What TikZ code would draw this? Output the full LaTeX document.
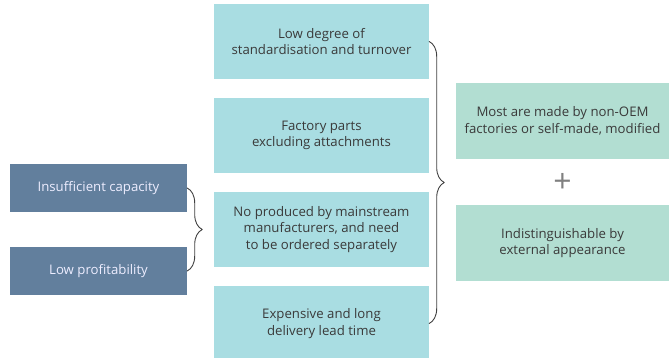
\documentclass[tikz,border=0pt]{standalone}
\usepackage{fontspec}
\setmainfont{Open Sans}
\usetikzlibrary{decorations.pathreplacing}
\definecolor{causeblue}{HTML}{627F9D}
\definecolor{partcyan}{HTML}{A9DDE2}
\definecolor{resgreen}{HTML}{B2DED2}
\definecolor{textgray}{HTML}{3A3A3A}
\begin{document}
\begin{tikzpicture}[x=1pt, y=-1pt, font=\fontsize{13.2}{16.6}\selectfont, line join=round, line cap=round,
	cause/.style={fill=causeblue, text=white!93!blue, minimum width=177pt, minimum height=48pt, inner sep=0pt, align=center},
	part/.style={fill=partcyan, text=textgray, minimum width=215pt, minimum height=75pt, inner sep=0pt, align=center},
	result/.style={fill=resgreen, text=textgray, minimum width=213pt, minimum height=76pt, inner sep=0pt, align=center},
	bracket/.style={draw=black!75, line width=0.9pt, decorate, decoration={brace, amplitude=15pt}}]
\useasboundingbox (0,0) rectangle (669,358);
			% causes
			\node[cause] (capacity) at (98.5,188) {Insufficient capacity};
			\node[cause] (profit) at (98.5,271) {Low profitability};
			% features of the parts
			\node[part] (standard) at (321.5,41.5) {Low degree of\\standardisation and turnover};
			\node[part] (factory) at (321.5,135.5) {Factory parts\\excluding attachments};
			\node[part] (ordered) at (321.5,229.5) {No produced by mainstream\\manufacturers, and need\\to be ordered separately};
			\node[part] (expensive) at (321.5,323.5) {Expensive and long\\delivery lead time};
			% results
			\node[result] (nonoem) at (562.5,121) {Most are made by non-OEM\\factories or self-made, modified};
			\node[result] (appear) at (562.5,243) {Indistinguishable by\\external appearance};
			\node[text=black!50, font=\fontsize{32}{32}\selectfont\addfontfeatures{FakeBold=-0.3}] (plus) at (562.5,183) {+};
			% braces
			\draw[bracket] (capacity.east) -- (profit.east);
			\draw[bracket] (standard.east) -- (expensive.east);
		\end{tikzpicture}
\end{document}
